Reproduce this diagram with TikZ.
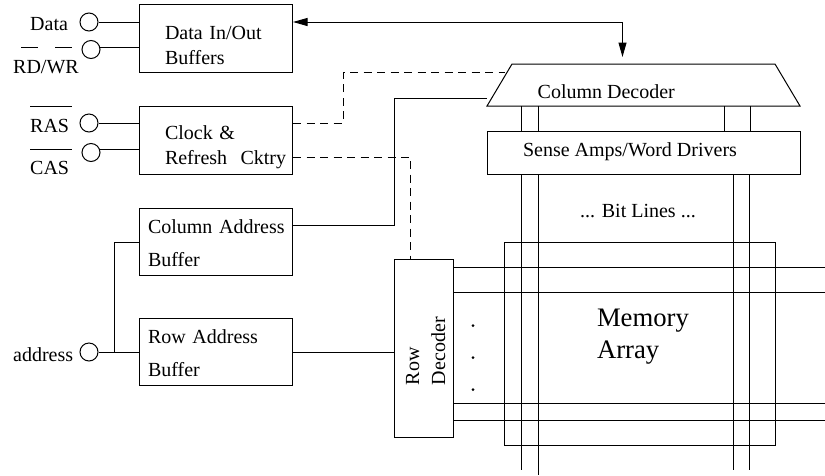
\documentclass[tikz,border=0pt]{standalone}
\usepackage{fontspec}
\setmainfont{Liberation Serif}
\usetikzlibrary{arrows.meta,calc}
\tikzset{
  wire/.style={line width=1pt,black},
  dashwire/.style={wire,dash pattern=on 8pt off 5.5pt},
  tip/.style={-{Triangle[length=14.5pt,width=8pt]}},
  boxshape/.style={draw,line width=1pt,inner sep=0pt,rectangle},
  iobox/.style={boxshape,minimum width=153pt,minimum height=67.5pt},
  pin/.style={draw,circle,line width=1pt,minimum size=18pt,inner sep=0pt},
  txt/.style={inner sep=0pt,anchor=base west,font=\fontsize{20}{24}\selectfont},
  intxt/.style={inner sep=0pt,align=left,font=\fontsize{20}{#1}\selectfont},
  dotmark/.style={fill,circle,minimum size=3pt,inner sep=0pt}
}
\begin{document}
\begin{tikzpicture}[x=1pt,y=-1pt]
\useasboundingbox (0,0) rectangle (825,475);
% pins
\node[pin] (pData) at (89,22) {};
\node[pin] (pRD) at (91,49.5) {};
\node[pin] (pRAS) at (89,123) {};
\node[pin] (pCAS) at (91,152.5) {};
\node[pin] (pAddr) at (89,352) {};
\node[txt] (tData) at (30,30) {Data};
\node[txt] (tRD) at (13,73) {RD/WR};
\node[txt] (tRAS) at (30,132) {RAS};
\node[txt] (tCAS) at (30,174) {CAS};
\node[txt] (tAddr) at (13,361) {address};
% overbars
\draw[wire] (21,47) -- (38,47) (55,47) -- (72,47);
\draw[wire] (30,106.5) -- (72,106.5);
\draw[wire] (30,149) -- (72,149);
% boxes
\node[iobox,label={[intxt=25,text width=102pt,yshift=-7pt]center:\mbox{Data In/Out}\\Buffers}] (bData) at (216,38.25) {};
\node[iobox,label={[intxt=25.5,text width=102pt,yshift=-7pt]center:\mbox{Clock \&}\\\mbox{Refresh\ \ Cktry}}] (bClock) at (216,140.25) {};
\node[iobox,label={[intxt=33,text width=136pt,yshift=-1.5pt]center:\mbox{Column Address}\\Buffer}] (bCol) at (216,241.75) {};
\node[iobox,label={[intxt=33,text width=136pt,yshift=-1.5pt]center:\mbox{Row Address}\\Buffer}] (bRow) at (216,351.75) {};
% column decoder
\coordinate (cdSW) at (487,106);
\coordinate (cdSE) at (800,106);
\draw[wire,line join=miter] (cdSW) -- (512,64) -- (775,64) -- (cdSE) -- cycle;
\node[txt] (cdec) at (537.5,98) {Column Decoder};
% sense amps
\node[boxshape,minimum width=313pt,minimum height=42.5pt,
  label={[intxt=24,xshift=-13.5pt,yshift=1pt]center:Sense Amps/Word Drivers}] (sense) at (643.5,152.75) {};
\node[txt] (bits) at (580,217) {... Bit Lines ...};
% memory array
\node[boxshape,minimum width=271pt,minimum height=203pt,
  label={[inner sep=0pt,align=left,text width=93pt,xshift=4pt,yshift=7pt,font=\fontsize{26.7}{32}\selectfont]center:Memory\\Array}] (mem) at (639.5,343.5) {};
% row decoder
\node[boxshape,minimum width=59.5pt,minimum height=178pt,
  label={[intxt=26,text width=74pt,rotate=90,xshift=0pt,yshift=-2pt]center:Row\\Decoder}] (rdec) at (423.75,348) {};
% pin wires
\draw[wire] (pData) -- (pData -| bData.west);
\coordinate (rdL) at (98.5,47);
\draw[wire] (rdL) -- (rdL -| bData.west);
\draw[wire] (pRAS) -- (pRAS -| bClock.west);
\coordinate (casL) at (98.5,149);
\draw[wire] (casL) -- (casL -| bClock.west);
\draw[wire] (pAddr) -- (pAddr -| bRow.west);
\coordinate (tee) at (114.5,352);
\coordinate (teeT) at (114.5,242);
\draw[wire] (tee) -- (teeT) -- (teeT -| bCol.west);
% data bus
\coordinate (busC) at (622.5,22);
\coordinate (busEnd) at (622.5,57);
\draw[wire,tip] (busC) -- (bData.east |- busC);
\draw[wire,tip] (busC) -- (busEnd);
% control
\coordinate (ctlA) at (343,123);
\coordinate (ctlB) at (410.5,157);
\coordinate (colA) at (394,225);
\coordinate (rowA) at (394,352);
\draw[dashwire] (ctlA -| bClock.east) -- (ctlA) -- (343,72) -- (505,72);
\draw[dashwire] (ctlB -| bClock.east) -- (ctlB) -- (ctlB |- rdec.north);
\draw[wire] (colA -| bCol.east) -- (colA) -- (394,98) -- (487,98);
\draw[wire] (rowA -| bRow.east) -- (rowA -| rdec.west);
% bit lines
\foreach \x in {521,538,724,750}{
  \coordinate (u) at (\x,106);
  \draw[wire] (u) -- (u |- sense.north);}
\foreach \x/\e in {521/470,538/475,733/470,749.5/470}{
  \coordinate (l) at (\x,\e);
  \draw[wire] (l |- sense.south) -- (l);}
% word lines
\foreach \y in {267,292.5,403,420}{
  \coordinate (w) at (825,\y);
  \draw[wire] (w -| rdec.east) -- (w);}
% dots
\foreach \y in {325.5,357.5,389.5}
  \node[dotmark] at (473,\y) {};
\end{tikzpicture}
\end{document}
